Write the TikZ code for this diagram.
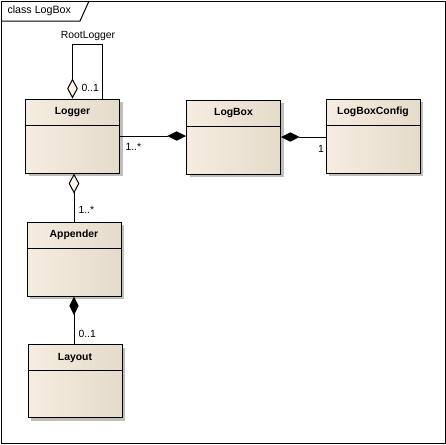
\documentclass[tikz,border=0pt]{standalone}
\usepackage{fontspec}
\setmainfont{Liberation Sans}
\usetikzlibrary{arrows.meta,shadows,calc}

\definecolor{classleft}{RGB}{245,237,224}
\definecolor{classmid}{RGB}{250,244,233}
\definecolor{classright}{RGB}{229,219,203}
\definecolor{classshadow}{RGB}{190,190,190}
\definecolor{openfill}{RGB}{251,245,235}

\tikzset{every picture/.style={line width=0.75pt}}
\tikzset{
  classbox/.style={draw, rectangle, inner sep=0pt, minimum width=70.5pt, minimum height=55.5pt,
    left color=classleft, middle color=classmid, right color=classright,
    drop shadow={shadow xshift=2.6pt, shadow yshift=-2.6pt, fill=classshadow, opacity=1}},
  classname/.style={font=\fontsize{7.8}{9}\selectfont\bfseries, inner sep=0.75pt},
  mult/.style={font=\fontsize{7.8}{9}\selectfont, inner sep=0.75pt},
  comp/.style={-{Diamond[length=14pt, width=7pt]}},
  aggr/.style={-{Diamond[length=15pt, width=8pt, fill=openfill]}}
}

\begin{document}
\begin{tikzpicture}[x=0.75pt,y=0.75pt,yscale=-1,xscale=1]
\useasboundingbox (0,0) rectangle (446,444);

%Shape: Frame
\draw (1,1) rectangle (445,443);
\draw (1,21) -- (80,21) -- (89,1);
% Text Node
\draw (6,11) node [anchor=west][inner sep=0.75pt] [font=\fontsize{8}{9.6}\selectfont] (title) {class LogBox};

%Shape: Classes
\node [classbox] (logger) at (72.5,136) {};
\node [classbox] (logbox) at (233.5,137) {};
\node [classbox] (logboxconfig) at (373,136) {};
\node [classbox] (appender) at (74,259) {};
\node [classbox, minimum height=54.75pt] (layout) at (75,381) {};

%Class compartments
\foreach \cls/\txt in {logger/Logger, logbox/LogBox, logboxconfig/LogBoxConfig, appender/Appender, layout/Layout}{
  \draw ($(\cls.north west)+(0,26.5)$) -- ($(\cls.north east)+(0,26.5)$);
  \node [classname] (\cls name) at ($(\cls.north)+(0,13.5)$) {\txt};
}

%Self association
\coordinate (rootcorner) at (102,44);
\draw [aggr] (rootcorner |- logger.north) -- (rootcorner) -| (logger.north);

%Connectors
\draw [comp] (logger.east) -- (logger.east -| logbox.west);
\draw [comp] (logboxconfig.west |- logbox.east) -- (logbox.east);
\draw [aggr] (appender.north) -- (appender.north |- logger.south);
\draw [comp] (layout.north -| appender.south) -- (appender.south);

% Text Node
\draw (88,36) node [mult] (rootlabel) {RootLogger};
\draw (80,88) node [mult, anchor=west] (rootmult) {0..1};
\draw (124,147) node [mult, anchor=west] (loggermult) {1..*};
\draw (321,149) node [mult] (configmult) {1};
\draw (77,209.5) node [mult, anchor=west] (appendermult) {1..*};
\draw (77,334) node [mult, anchor=west] (layoutmult) {0..1};

\end{tikzpicture}
\end{document}
